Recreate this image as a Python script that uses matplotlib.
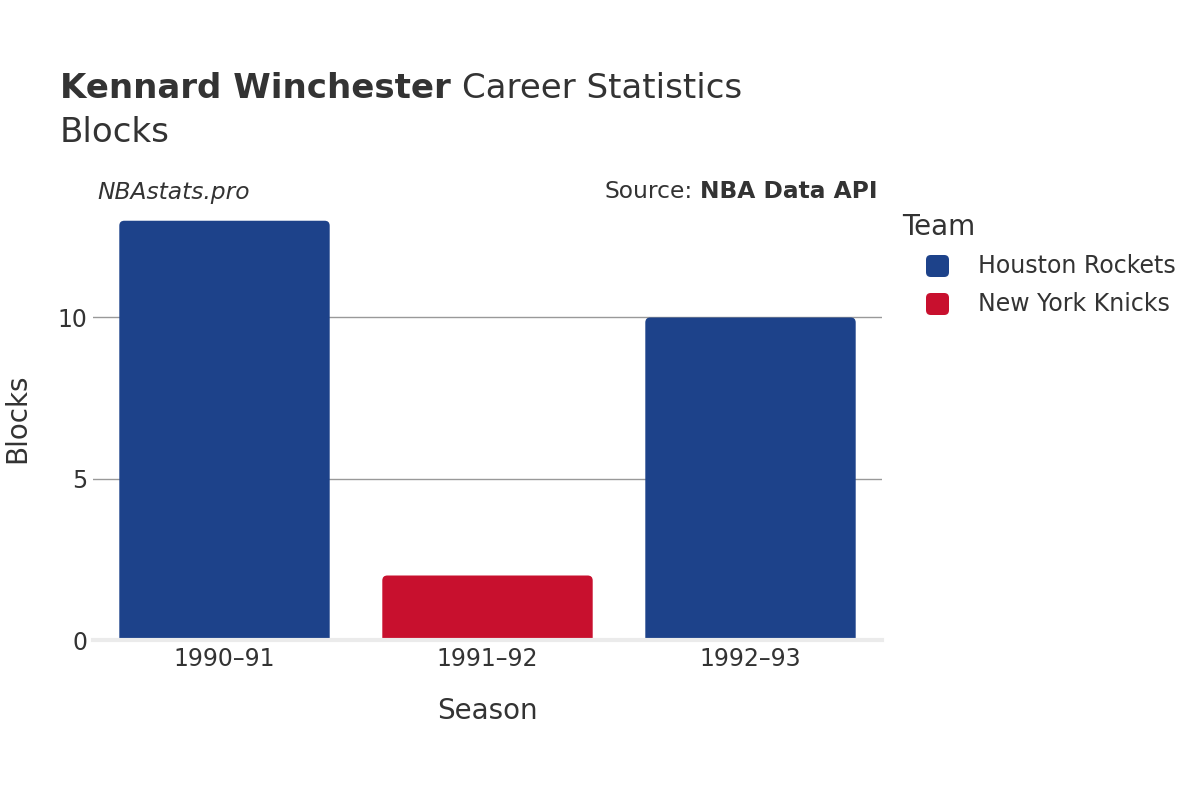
import matplotlib
matplotlib.use("Agg")
import matplotlib.pyplot as plt
from matplotlib.patches import FancyBboxPatch

seasons = ["1990\u201391", "1991\u201392", "1992\u201393"]
blocks = [13, 2, 10]
teams = ["Houston Rockets", "New York Knicks", "Houston Rockets"]
team_colors = {"Houston Rockets": "#1d428a", "New York Knicks": "#c8102e"}
legend_teams = ["Houston Rockets", "New York Knicks"]

txt = "#333333"
plt.rcParams["font.family"] = "DejaVu Sans"

fig = plt.figure(figsize=(12, 8), dpi=100)
ax = fig.add_axes([93 / 1200, 0.2, (882 - 93) / 1200, (640 - 203) / 800])

ax.set_xlim(-0.5, len(seasons) - 0.5)
ax.set_ylim(0, 13.55)

# rounded bars (corrected for the axes aspect)
px_x = 789 / 3.0
px_y = 437 / 13.55
r = 5 / px_x
for i, (v, t) in enumerate(zip(blocks, teams)):
    p = FancyBboxPatch((i - 0.4 + r, -1), 0.8 - 2 * r, v + 1 - r * px_x / px_y,
                       boxstyle="round,pad=%f,rounding_size=%f" % (r, r),
                       mutation_aspect=px_x / px_y,
                       facecolor=team_colors[t], edgecolor="none", zorder=3)
    ax.add_patch(p)

ax.set_yticks([0, 5, 10])
ax.set_xticks(range(len(seasons)))
ax.set_xticklabels(seasons)
ax.tick_params(axis="both", length=0, labelsize=17, colors=txt)
ax.tick_params(axis="x", pad=5)
ax.tick_params(axis="y", pad=4)
ax.grid(axis="y", color="#999999", linewidth=1)
ax.set_axisbelow(True)
for s in ax.spines.values():
    s.set_visible(False)
ax.axhline(0, color="#ebebeb", linewidth=3, zorder=4, clip_on=False)

fig.text(487 / 1200, 1 - 711 / 800, "Season", fontsize=20, color=txt, ha="center", va="center")
fig.text(17 / 1200, 1 - 418 / 800, "Blocks", fontsize=20, color=txt, ha="center", va="center",
         rotation=90)

# title
t1 = fig.text(60 / 1200, 1 - 88 / 800, "Kennard Winchester", fontsize=24.5, fontweight="bold",
              color=txt, va="center")
fig.canvas.draw()
bb = t1.get_window_extent()
fig.text((bb.x1 + 11) / 1200, 1 - 88 / 800, "Career Statistics", fontsize=24.5, color=txt, va="center")
fig.text(60 / 1200, 1 - 132 / 800, "Blocks", fontsize=24.5, color=txt, va="center")

fig.text(97 / 1200, 1 - 192 / 800, "NBAstats.pro", fontsize=16.8, style="italic", color=txt, va="center")
s2 = fig.text(878 / 1200, 1 - 192 / 800, "NBA Data API", fontsize=16.8, fontweight="bold",
              color=txt, va="center", ha="right")
fig.canvas.draw()
bb2 = s2.get_window_extent()
fig.text((bb2.x0 - 8) / 1200, 1 - 192 / 800, "Source:", fontsize=16.8, color=txt, va="center", ha="right")

# legend
fig.text(902 / 1200, 1 - 227 / 800, "Team", fontsize=20, color=txt, va="center")
for k, name in enumerate(legend_teams):
    yc = 266 + 38 * k
    box = FancyBboxPatch(((926 + 3) / 1200, 1 - (yc + 11 - 3) / 800), 17 / 1200, 16 / 800,
                         boxstyle="round,pad=0.0025,rounding_size=0.004",
                         mutation_aspect=1.5, transform=fig.transFigure,
                         facecolor=team_colors[name], edgecolor="none")
    fig.patches.append(box)
    fig.text(978 / 1200, 1 - yc / 800, name, fontsize=17, color=txt, va="center")

fig.savefig("out.png", dpi=100)
